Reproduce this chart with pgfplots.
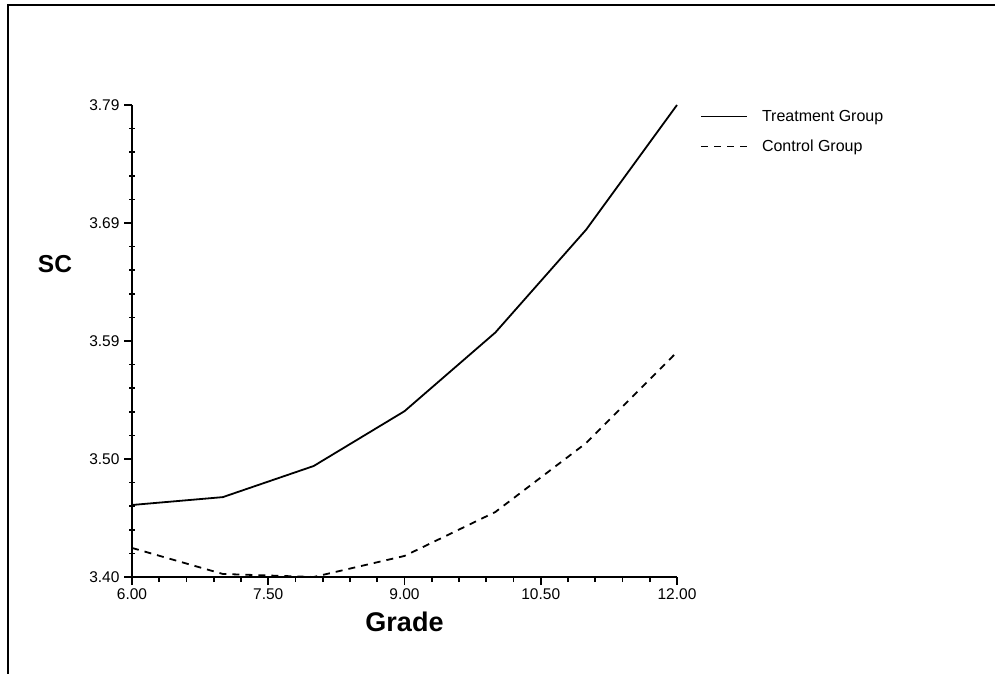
\documentclass[border=0pt]{standalone}
\usepackage{pgfplots}
\pgfplotsset{compat=1.18}
\usepackage{fontspec}
\setmainfont{Liberation Sans}
\newcommand\tk[1]{{\fontsize{15.5}{17}\selectfont #1}}
\begin{document}
\begin{tikzpicture}[x=1pt,y=1pt]
\path[use as bounding box] (0,0) rectangle (995,674);
\draw[line width=2pt] (8,0) -- (8,669) -- (995,669);
\begin{axis}[
  at={(132pt,97pt)}, anchor=origin,
  scale only axis, width=545pt, height=472pt,
  xmin=6, xmax=12, ymin=3.40, ymax=3.79,
  axis x line=bottom, axis y line=left,
  axis line style={line width=2.4pt, -},
  xtick={6,7.5,9,10.5,12},
  xticklabels={\tk{6.00},\tk{7.50},\tk{9.00},\tk{10.50},\tk{12.00}},
  ytick={3.40,3.4975,3.595,3.6925,3.79},
  yticklabels={\tk{3.40},\tk{3.50},\tk{3.59},\tk{3.69},\tk{3.79}},
  minor x tick num=4, minor y tick num=4,
  tick align=outside,
  major tick length=8pt, minor tick length=6pt,
  every tick/.style={black, line width=1.6pt},
  minor y tick style={xshift=3pt},
  minor x tick style={yshift=1pt},
  xticklabel style={yshift=0pt},
  yticklabel style={xshift=-1pt},
  every axis x label/.style={at={(axis description cs:0.5,0)}, anchor=center, yshift=-45pt, font=\fontsize{27}{30}\selectfont\bfseries},
  every axis y label/.style={at={(axis description cs:0,0.663)}, anchor=center, xshift=-77pt, font=\fontsize{24.5}{28}\selectfont\bfseries},
  xlabel={Grade}, ylabel={SC},
  clip=false,
  legend style={at={(axis description cs:1,1)}, anchor=north west, draw=none, fill=none,
    xshift=20pt, yshift=-1pt, font=\fontsize{16}{18}\selectfont, row sep=13pt,
    legend cell align=left, /tikz/every odd column/.append style={column sep=12pt}},
  legend image code/.code={\draw[#1, line width=1.8pt] (0pt,0pt) -- (46pt,0pt);},
]
\addplot[black, line width=1.8pt] coordinates {
  (6,3.4595) (7,3.466) (8,3.4917) (9,3.537) (10,3.602) (11,3.687) (12,3.79)};
\addlegendentry{Treatment Group}
\addplot[black, line width=1.8pt, dash pattern=on 7pt off 6pt] coordinates {
  (6,3.424) (7,3.4025) (8,3.40) (9,3.4174) (10,3.4537) (11,3.5107) (12,3.5859)};
\addlegendentry{Control Group}
\end{axis}
\end{tikzpicture}
\end{document}
